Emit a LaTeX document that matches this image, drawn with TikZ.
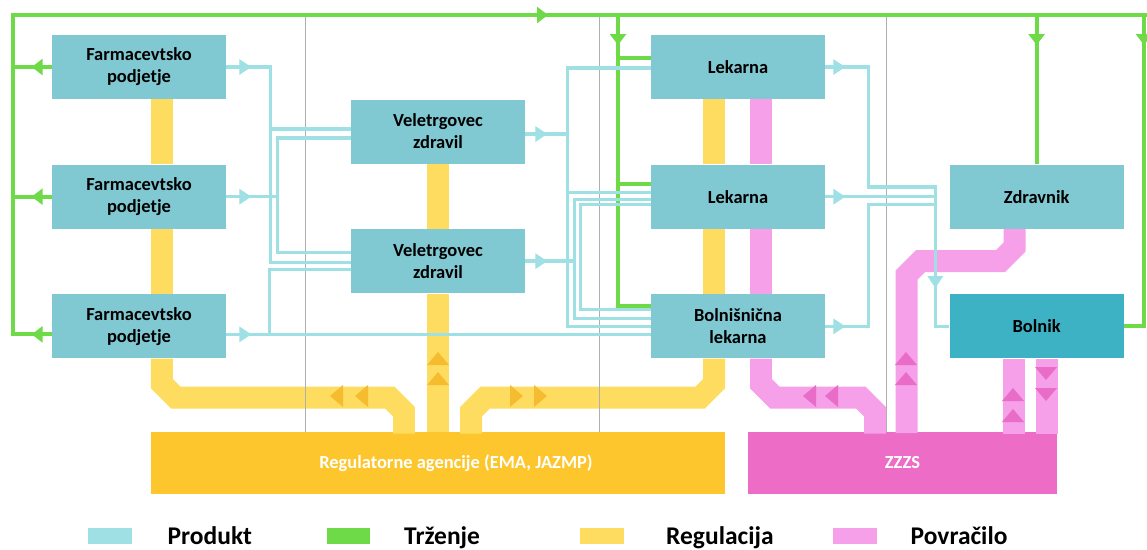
\documentclass[tikz,border=0pt]{standalone}
\usepackage{fontspec}
\setmainfont{Carlito}
\usepackage{tikz}
\usetikzlibrary{arrows.meta, positioning}

\definecolor{boxc}{RGB}{128,200,210}
\definecolor{patientc}{RGB}{60,178,196}
\definecolor{prodc}{RGB}{158,224,228}
\definecolor{mktc}{RGB}{110,218,72}
\definecolor{regc}{RGB}{253,220,95}
\definecolor{regbarc}{RGB}{252,198,44}
\definecolor{regtric}{RGB}{246,188,48}
\definecolor{payc}{RGB}{245,160,232}
\definecolor{paybarc}{RGB}{237,108,198}
\definecolor{paytric}{RGB}{232,108,200}
\definecolor{gridc}{RGB}{175,175,175}

\begin{document}
\begin{tikzpicture}[
    x=0.02cm, y=-0.02cm,
    box/.style={rectangle, fill=boxc, minimum width=3.48cm, minimum height=1.28cm, inner sep=0pt, align=center, font=\fontsize{10.5}{12.5}\selectfont\bfseries},
    bar/.style={rectangle, minimum height=1.24cm, inner sep=0pt, text=white, font=\fontsize{10.5}{12.5}\selectfont\bfseries},
    prod/.style={draw=prodc, line width=0.07cm},
    mkt/.style={draw=mktc, line width=0.08cm},
    prodtip/.style={-{Triangle[length=0.24cm, width=0.3cm]}},
    mkttip/.style={-{Triangle[length=0.22cm, width=0.32cm]}},
    regband/.style={draw=regc, line width=0.44cm},
    payband/.style={draw=payc, line width=0.44cm},
    gridline/.style={draw=gridc, line width=0.5pt},
    swatch/.style={rectangle, minimum width=0.88cm, minimum height=0.32cm, inner sep=0pt},
    legtext/.style={inner sep=0pt, text height=0.33cm, text depth=0pt, font=\fontsize{14.5}{16}\selectfont\bfseries}
]
\useasboundingbox (0,0) rectangle (1147,549);

% Actors
\node[box] (farma1) at (139,67) {Farmacevtsko\\podjetje};
\node[box, below=1.3cm of farma1] (farma2) {Farmacevtsko\\podjetje};
\node[box, below=1.3cm of farma2] (farma3) {Farmacevtsko\\podjetje};
\node[box] (vele1) at (438,131.5) {Veletrgovec\\zdravil};
\node[box, below=1.3cm of vele1] (vele2) {Veletrgovec\\zdravil};
\node[box] (lek1) at (738,67) {Lekarna};
\node[box, below=1.3cm of lek1] (lek2) {Lekarna};
\node[box, below=1.3cm of lek2] (bolnl) {Bolnišnična\\lekarna};
\node[box, right=2.48cm of lek2] (zdrav) {Zdravnik};
\node[box, below=1.3cm of zdrav, fill=patientc] (bolnik) {Bolnik};

% Agencies
\node[bar, fill=regbarc, minimum width=11.48cm] (regul) at (438,463) {\hspace{0.72cm}Regulatorne agencije (EMA, JAZMP)};
\node[bar, fill=paybarc, minimum width=6.18cm] (zzzs) at (902.5,463) {ZZZS};

% Regulacija
\draw[regband] ([xshift=0.46cm]farma1.south) -- ([xshift=0.46cm]farma2.north);
\draw[regband] ([xshift=0.46cm]farma2.south) -- ([xshift=0.46cm]farma3.north);
\draw[regband] ([xshift=0.46cm]farma3.south) -- ++(0,25) -- ++(14,14) -- ++(214,0) -- ++(14,14) -- ++(0,22);
\draw[regband] (vele1.south) -- (vele2.north);
\draw[regband] (vele2.south) -- (regul.north);
\draw[regband] ([xshift=-0.48cm]lek1.south) -- ([xshift=-0.48cm]lek2.north);
\draw[regband] ([xshift=-0.48cm]lek2.south) -- ([xshift=-0.48cm]bolnl.north);
\draw[regband] ([xshift=-0.48cm]bolnl.south) -- ++(0,25) -- ++(-14,14) -- ++(-215,0) -- ++(-14,14) -- ++(0,22);
\foreach \x in {330,355} \fill[regtric] (\x,396) -- ++(13,-11) -- ++(0,22) -- cycle;
\foreach \x in {523,547} \fill[regtric] (\x,396) -- ++(-13,-11) -- ++(0,22) -- cycle;
\foreach \y in {352,372} \fill[regtric] (438,\y) -- ++(-11,13) -- ++(22,0) -- cycle;

% Povracilo
\draw[payband] ([xshift=0.46cm]lek1.south) -- ([xshift=0.46cm]lek2.north);
\draw[payband] ([xshift=0.46cm]lek2.south) -- ([xshift=0.46cm]bolnl.north);
\draw[payband] ([xshift=0.46cm]bolnl.south) -- ++(0,25) -- ++(14,14) -- ++(86,0) -- ++(14,14) -- ++(0,22);
\draw[payband] ([xshift=-0.44cm]zdrav.south) -- ++(0,18) -- ++(-14,14) -- ++(-80,0) -- ++(-14,14) -- ++(0,158);
\draw[payband] ([xshift=-0.46cm]bolnik.south) -- ++(0,75);
\draw[payband] ([xshift=0.2cm]bolnik.south) -- ++(0,75);
\foreach \x in {803,825} \fill[paytric] (\x,396) -- ++(13,-11) -- ++(0,22) -- cycle;
\foreach \y in {352,372} \fill[paytric] (906,\y) -- ++(-11,13) -- ++(22,0) -- cycle;
\foreach \y in {388,409} \fill[paytric] (1013,\y) -- ++(-11,13) -- ++(22,0) -- cycle;
\foreach \y in {380,401} \fill[paytric] (1046,\y) -- ++(-11,-13) -- ++(22,0) -- cycle;

% column separators
\foreach \x in {305,599,886} \draw[gridline] (\x,15) -- (\x,432);

% Trzenje
\coordinate (gtl) at (13,15);
\coordinate (gtr) at (1147,15);
\coordinate (glek) at (618,15);
\coordinate (gbol) at (1144,15);
\draw[mkt] ([yshift=-0.16cm]farma3.west) -| (gtl) -- (gtr);
\draw[mkt] (farma1.west) -- (farma1.west -| gtl);
\draw[mkt] (farma2.west) -- (farma2.west -| gtl);
\draw[mkt, mkttip] (farma1.west) -- ++(-20,0);
\draw[mkt, mkttip] (farma2.west) -- ++(-20,0);
\draw[mkt, mkttip] ([yshift=-0.16cm]farma3.west) -- ++(-20,0);
\draw[mkt, mkttip] (gtl) -- ++(535,0);
\draw[mkt] ([yshift=0.4cm]bolnl.west) -| (glek);
\draw[mkt] ([yshift=0.18cm]lek1.west) -- ([yshift=0.18cm]lek1.west -| glek);
\draw[mkt] ([yshift=0.26cm]lek2.west) -- ([yshift=0.26cm]lek2.west -| glek);
\draw[mkt, mkttip] (glek) -- ++(0,30);
\draw[mkt] (zdrav.north) -- (zdrav.north |- gtl);
\draw[mkt, mkttip] (zdrav.north |- gtl) -- ++(0,30);
\draw[mkt] (bolnik.east) -| (gbol);
\draw[mkt, mkttip] (gbol) -- ++(0,30);

% Produkt: proizvajalci -> veletrgovci
\draw[prod] (farma1.east) -- ++(44,0) |- ([yshift=-0.03cm]vele2.west);
\draw[prod] ([yshift=0.05cm]vele1.west) -- ++(-81,0);
\draw[prod] (farma2.east) -- ++(52,0);
\draw[prod] ([yshift=-0.13cm]vele1.west) -- ++(-73,0) |- ([yshift=0.17cm]vele2.west);
\draw[prod] ([yshift=-0.16cm]farma3.east) -- ([yshift=-0.16cm]bolnl.west);
\draw[prod] ([yshift=-0.17cm]vele2.west) -- ++(-81,0) |- ([yshift=-0.16cm]farma3.east);
\draw[prod, prodtip] (farma1.east) -- ++(25,0);
\draw[prod, prodtip] (farma2.east) -- ++(25,0);
\draw[prod, prodtip] ([yshift=-0.16cm]farma3.east) -- ++(25,0);

% Produkt: veletrgovci -> lekarne
\draw[prod] ([yshift=-0.05cm]vele1.east) -- ++(43,0);
\draw[prod] ([yshift=-0.02cm]lek1.west) -- ++(-83,0) |- (bolnl.west);
\draw[prod] ([yshift=0.08cm]lek2.west) -- ++(-83,0);
\draw[prod] (vele2.east) -- ++(50,0);
\draw[prod] ([yshift=-0.06cm]lek2.west) -- ++(-76,0) |- ([yshift=0.16cm]bolnl.west);
\draw[prod] ([yshift=-0.16cm]lek2.west) -- ++(-70,0) |- ([yshift=0.34cm]bolnl.west);
\draw[prod, prodtip] ([yshift=-0.05cm]vele1.east) -- ++(22,0);
\draw[prod, prodtip] (vele2.east) -- ++(22,0);

% Produkt: lekarne -> bolnik
\draw[prod] (lek1.east) -- ++(43,0) -- ++(0,120) -- ++(67,0) coordinate (drop) |- (bolnik.west);
\draw[prod] (lek2.east) -- (lek2.east -| drop);
\draw[prod] (bolnl.east) -- ++(43,0) |- ([yshift=-0.16cm]lek2.east -| drop);
\draw[prod, prodtip] (drop) -- ++(0,101);
\draw[prod, prodtip] (lek1.east) -- ++(20,0);
\draw[prod, prodtip] (lek2.east) -- ++(20,0);
\draw[prod, prodtip] (bolnl.east) -- ++(20,0);

% Legenda
\node[swatch, fill=prodc] (lgprod) at (110,536) {};
\node[legtext, right=0.7cm of lgprod] (lgprodtxt) {Produkt};
\node[swatch, fill=mktc] (lgmkt) at (348.5,536) {};
\node[legtext, right=0.66cm of lgmkt] (lgmkttxt) {Trženje};
\node[swatch, fill=regc] (lgreg) at (601.5,536) {};
\node[legtext, right=0.84cm of lgreg] (lgregtxt) {Regulacija};
\node[swatch, fill=payc] (lgpay) at (855,536) {};
\node[legtext, right=0.66cm of lgpay] (lgpaytxt) {Povračilo};
\end{tikzpicture}
\end{document}
